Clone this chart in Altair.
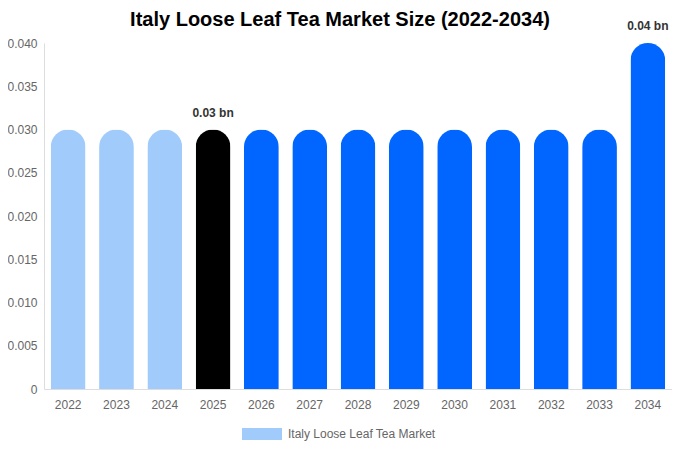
import altair as alt
import pandas as pd

years = ["2022", "2023", "2024", "2025", "2026", "2027", "2028", "2029", "2030", "2031", "2032", "2033", "2034"]
values = [0.03, 0.03, 0.03, 0.03, 0.03, 0.03, 0.03, 0.03, 0.03, 0.03, 0.03, 0.03, 0.04]
bar_colors = ["#a0cbfa", "#a0cbfa", "#a0cbfa", "#000000", "#0066ff", "#0066ff", "#0066ff",
              "#0066ff", "#0066ff", "#0066ff", "#0066ff", "#0066ff", "#0066ff"]
labels = ["", "", "", "0.03 bn", "", "", "", "", "", "", "", "", "0.04 bn"]
series_name = "Italy Loose Leaf Tea Market"

df = pd.DataFrame({
    "year": years,
    "value": values,
    "fillc": bar_colors,
    "label": labels,
    "series": [series_name] * len(years),
})

FONT = "Liberation Sans"

x = alt.X("year:N", sort=years, title=None,
          scale=alt.Scale(paddingInner=0.28, paddingOuter=0.14),
          axis=alt.Axis(labelAngle=0, labelColor="#666666", labelFontSize=12, labelFont=FONT,
                        ticks=False, domainColor="#dddddd", labelPadding=10))
y = alt.Y("value:Q", title=None,
          scale=alt.Scale(domain=[0, 0.04], nice=False),
          axis=alt.Axis(values=[0, 0.005, 0.01, 0.015, 0.02, 0.025, 0.03, 0.035, 0.04],
                        labelExpr="datum.value == 0 ? '0' : format(datum.value, '.3f')",
                        labelColor="#666666", labelFontSize=12, labelFont=FONT,
                        ticks=False, grid=False, domainColor="#dddddd", labelPadding=7))

bars = alt.Chart(df).mark_bar(cornerRadiusTopLeft=17.5, cornerRadiusTopRight=17.5).encode(
    x=x, y=y,
    color=alt.Color("fillc:N", scale=None),
)

legend_layer = alt.Chart(df).mark_square(size=0, opacity=0).encode(
    x=x, y=y,
    color=alt.Color("series:N", title=None,
                    scale=alt.Scale(range=["#a0cbfa"]),
                    legend=alt.Legend(orient="none", legendX=198, legendY=371,
                                      symbolType="M-1,-0.3H1V0.3H-1Z", symbolSize=1600,
                                      symbolStrokeWidth=0, symbolOpacity=1,
                                      symbolFillColor="#a0cbfa",
                                      labelColor="#666666", labelFontSize=12, labelFont=FONT,
                                      labelOffset=6)),
)

text = alt.Chart(df).transform_filter("datum.label != ''").mark_text(
    dy=-17, fontSize=12, fontWeight="bold", color="#333333", font=FONT
).encode(x=x, y=y, text="label:N")

chart = (bars + legend_layer + text).properties(
    width=628, height=346,
    padding={"left": 36, "top": 35, "right": 0, "bottom": 53},
    autosize=alt.AutoSizeParams(type="none"),
    title=alt.TitleParams("Italy Loose Leaf Tea Market Size (2022-2034)", fontSize=20,
                          fontWeight="bold", font=FONT, color="#000000",
                          anchor="middle", dx=-18, offset=-10),
).configure_view(stroke=None)

chart.save("out.html", embed_options={"renderer": "svg", "actions": False})
